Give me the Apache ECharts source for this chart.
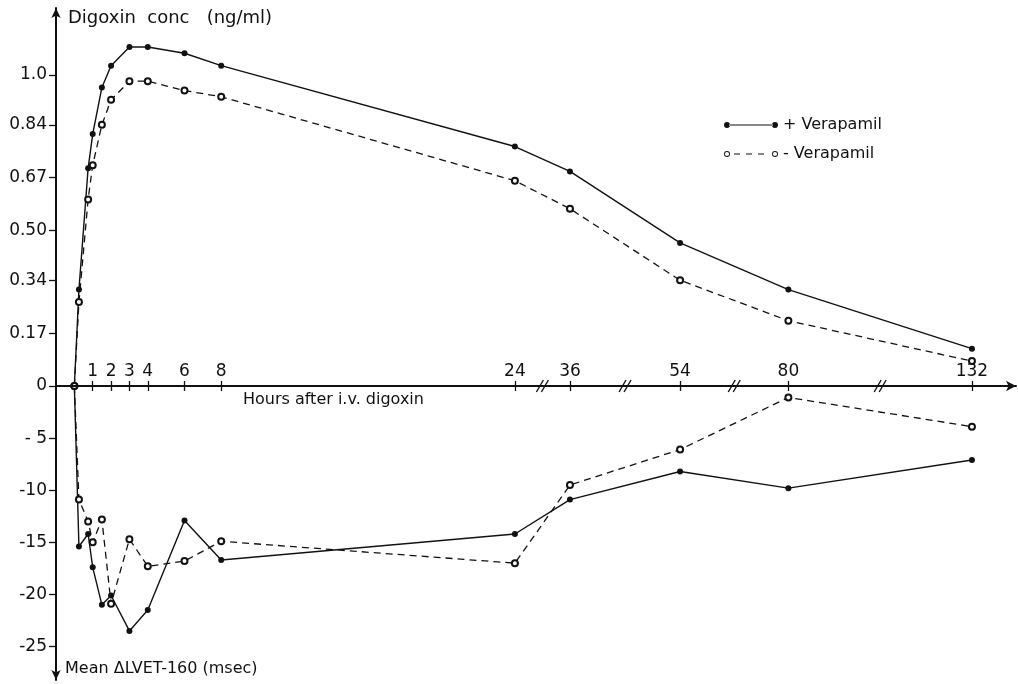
<!DOCTYPE html>
<html>
<head>
<meta charset="utf-8">
<script src="https://cdn.jsdelivr.net/npm/echarts@6/dist/echarts.min.js"></script>
<style>
  html, body { margin: 0; padding: 0; background: #fff; }
  #chart { width: 1018px; height: 684px; }
</style>
</head>
<body>
<div id="chart"></div>
<script>
// Sampling times (hours after i.v. digoxin)
const hours = [0, 0.25, 0.75, 1, 1.5, 2, 3, 4, 6, 8, 24, 36, 54, 80, 132];

// Digoxin concentration (ng/ml)
const concWithVerapamil    = [0, 0.31, 0.70, 0.81, 0.96, 1.03, 1.09, 1.09, 1.07, 1.03, 0.77, 0.69, 0.46, 0.31, 0.12];
const concWithoutVerapamil = [0, 0.27, 0.60, 0.71, 0.84, 0.92, 0.98, 0.98, 0.95, 0.93, 0.66, 0.57, 0.34, 0.21, 0.08];

// Mean delta LVET-160 (msec)
const lvetWithVerapamil    = [0, -15.4, -14.2, -17.4, -21.0, -20.1, -23.5, -21.5, -12.9, -16.7, -14.2, -10.9, -8.2, -9.8, -7.1];
const lvetWithoutVerapamil = [0, -10.9, -13.0, -15.0, -12.8, -20.9, -14.7, -17.3, -16.8, -14.9, -17.0, -9.5, -6.1, -1.1, -3.9];

// Axis ticks and their labels
const hourTicks = [1, 2, 3, 4, 6, 8, 24, 36, 54, 80, 132];
const concTicks = [0, 0.17, 0.34, 0.50, 0.67, 0.84, 1.0];
const concTickLabels = ['0', '0.17', '0.34', '0.50', '0.67', '0.84', '1.0'];
const lvetTicks = [-5, -10, -15, -20, -25];
const lvetTickLabels = ['- 5', '-10', '-15', '-20', '-25'];

const seriesNames = ['+ Verapamil', '- Verapamil'];

const FONT = 'DejaVu Sans';
const INK = '#111';

const pairs = vals => hours.map((h, i) => [h, vals[i]]);
const labelFor = (ticks, labels) => v => {
  let best = 0;
  ticks.forEach((t, i) => { if (Math.abs(t - v) < Math.abs(ticks[best] - v)) best = i; });
  return labels[best];
};

// Broken hour axis: the long intervals after 24 h are compressed
const hourBreaks = [
  { start: 25, end: 35, gap: 1 },
  { start: 37, end: 53, gap: 4 },
  { start: 55, end: 79, gap: 3.9 },
  { start: 81, end: 131, gap: 8 }
];
const HOUR_MIN = -1;
const HOUR_MAX = 134.4;

function hourAxis(extra) {
  return Object.assign({
    type: 'value',
    min: HOUR_MIN,
    max: HOUR_MAX,
    breaks: hourBreaks,
    breakArea: { show: false },
    splitLine: { show: false }
  }, extra);
}

const chart = echarts.init(document.getElementById('chart'), null, { renderer: 'canvas' });

const titleStyle = { fontFamily: FONT, fontSize: 16, fontWeight: 'normal', color: INK };
const tickLabelStyle = { fontFamily: FONT, fontSize: 17, color: INK };

const option = {
  animation: false,
  backgroundColor: '#fff',
  textStyle: { fontFamily: FONT, color: INK },
  title: [
    { text: 'Digoxin  conc   (ng/ml)', left: 68, top: 9, padding: 0,
      textStyle: Object.assign({}, titleStyle, { fontSize: 18 }) },
    { text: 'Hours after i.v. digoxin', left: 243, top: 392, padding: 0, textStyle: titleStyle },
    { text: 'Mean \u0394LVET-160 (msec)', left: 65, top: 661, padding: 0, textStyle: titleStyle }
  ],
  legend: {
    orient: 'vertical',
    left: 724,
    top: 117,
    padding: 0,
    itemGap: 13,
    itemWidth: 54,
    itemHeight: 6,
    textStyle: { fontFamily: FONT, fontSize: 16, color: INK },
    data: [
      { name: seriesNames[0], itemStyle: { color: INK, borderWidth: 0 },
        icon: 'path://M0,4a3,3 0 1,0 6,0a3,3 0 1,0 -6,0Z M48,4a3,3 0 1,0 6,0a3,3 0 1,0 -6,0Z M5,3.4H49V4.6H5Z' },
      { name: seriesNames[1], itemStyle: { color: INK, borderWidth: 0 },
        icon: 'path://M0,4a3,3 0 1,0 6,0a3,3 0 1,0 -6,0Z M0.9,4a2.1,2.1 0 1,1 4.2,0a2.1,2.1 0 1,1 -4.2,0Z M48,4a3,3 0 1,0 6,0a3,3 0 1,0 -6,0Z M48.9,4a2.1,2.1 0 1,1 4.2,0a2.1,2.1 0 1,1 -4.2,0Z M10,3.45H16V4.55H10Z M22,3.45H28V4.55H22Z M34,3.45H40V4.55H34Z' }
    ]
  },
  // upper panel: concentration; lower panel: LVET change; they meet on the hour axis
  grid: [
    { left: 56, right: 2, top: 8, bottom: 298, containLabel: false },
    { left: 56, right: 2, top: 386, bottom: 4, containLabel: false }
  ],
  xAxis: [
    // hour axis line with arrow and the downward tick halves
    hourAxis({
      gridIndex: 0,
      position: 'bottom',
      axisLine: { onZero: false, symbol: ['none', 'arrow'], symbolSize: [8, 10],
                  lineStyle: { color: INK, width: 2 } },
      axisTick: { show: true, customValues: hourTicks, length: 5, lineStyle: { color: INK, width: 1.3 } },
      axisLabel: { show: false }
    }),
    // same baseline seen from the lower panel: upward tick halves and hour labels
    hourAxis({
      gridIndex: 1,
      position: 'top',
      axisLine: { show: true, onZero: false, lineStyle: { color: 'rgba(0,0,0,0)', width: 0 } },
      axisTick: { show: true, customValues: hourTicks, length: 5, lineStyle: { color: INK, width: 1.3 } },
      axisLabel: Object.assign({ show: true, customValues: hourTicks, margin: 6 }, tickLabelStyle)
    })
  ],
  yAxis: [
    {
      gridIndex: 0,
      type: 'value',
      position: 'left',
      min: 0,
      max: 1.2154,
      splitLine: { show: false },
      axisLine: { show: true, onZero: false, symbol: ['none', 'arrow'], symbolSize: [7, 10],
                  lineStyle: { color: INK, width: 2 } },
      axisTick: { show: true, customValues: concTicks, length: 7, lineStyle: { color: INK, width: 1.3 } },
      axisLabel: Object.assign({ show: true, customValues: concTicks, margin: 9,
                   formatter: labelFor(concTicks, concTickLabels) }, tickLabelStyle)
    },
    {
      gridIndex: 1,
      type: 'value',
      position: 'left',
      min: -28.21,
      max: 0,
      splitLine: { show: false },
      axisLine: { show: true, onZero: false, symbol: ['arrow', 'none'], symbolSize: [7, 10],
                  lineStyle: { color: INK, width: 2 } },
      axisTick: { show: true, customValues: lvetTicks, length: 7, lineStyle: { color: INK, width: 1.3 } },
      axisLabel: Object.assign({ show: true, customValues: lvetTicks, margin: 9,
                   formatter: labelFor(lvetTicks, lvetTickLabels) }, tickLabelStyle)
    }
  ],
  series: [
    {
      name: seriesNames[0], type: 'line', xAxisIndex: 0, yAxisIndex: 0, clip: false,
      data: pairs(concWithVerapamil),
      symbol: 'circle', symbolSize: 6, color: INK,
      lineStyle: { color: INK, width: 1.4, type: 'solid' },
      itemStyle: { color: INK }
    },
    {
      name: seriesNames[1], type: 'line', xAxisIndex: 0, yAxisIndex: 0, clip: false,
      data: pairs(concWithoutVerapamil),
      symbol: 'emptyCircle', symbolSize: 6, color: INK,
      lineStyle: { color: INK, width: 1.3, type: [7, 5] },
      itemStyle: { color: INK, borderColor: INK, borderWidth: 1 }
    },
    {
      name: seriesNames[0], type: 'line', xAxisIndex: 1, yAxisIndex: 1, clip: false,
      data: pairs(lvetWithVerapamil),
      symbol: 'circle', symbolSize: 6, color: INK,
      lineStyle: { color: INK, width: 1.4, type: 'solid' },
      itemStyle: { color: INK }
    },
    {
      name: seriesNames[1], type: 'line', xAxisIndex: 1, yAxisIndex: 1, clip: false,
      data: pairs(lvetWithoutVerapamil),
      symbol: 'emptyCircle', symbolSize: 6, color: INK,
      lineStyle: { color: INK, width: 1.3, type: [7, 5] },
      itemStyle: { color: INK, borderColor: INK, borderWidth: 1 }
    }
  ]
};

chart.setOption(option);

// Continuous hour axis line across the compressed spans, plus "//" marks between the wide ticks
function drawAxisDecor() {
  const y0 = chart.convertToPixel({ yAxisIndex: 0 }, 0);
  const xs = chart.convertToPixel({ xAxisIndex: 0 }, HOUR_MIN);
  const xe = chart.convertToPixel({ xAxisIndex: 0 }, HOUR_MAX);
  const items = [{
    type: 'line', id: 'hourAxisLine', silent: true, z: 50,
    shape: { x1: xs, y1: y0, x2: xe - 4, y2: y0 },
    style: { stroke: INK, lineWidth: 2 }
  }];
  const spans = [[24, 36], [36, 54], [54, 80], [80, 132]];
  spans.forEach(([a, b], i) => {
    const cx = (chart.convertToPixel({ xAxisIndex: 0 }, a) + chart.convertToPixel({ xAxisIndex: 0 }, b)) / 2;
    [-2.5, 2.5].forEach((d, j) => {
      items.push({
        type: 'line', id: 'brk' + i + '_' + j, silent: true, z: 100,
        shape: { x1: cx + d - 3.5, y1: y0 + 6, x2: cx + d + 3.5, y2: y0 - 6 },
        style: { stroke: INK, lineWidth: 1.4 }
      });
    });
  });
  chart.setOption({ graphic: items });
}
drawAxisDecor();
</script>
</body>
</html>
